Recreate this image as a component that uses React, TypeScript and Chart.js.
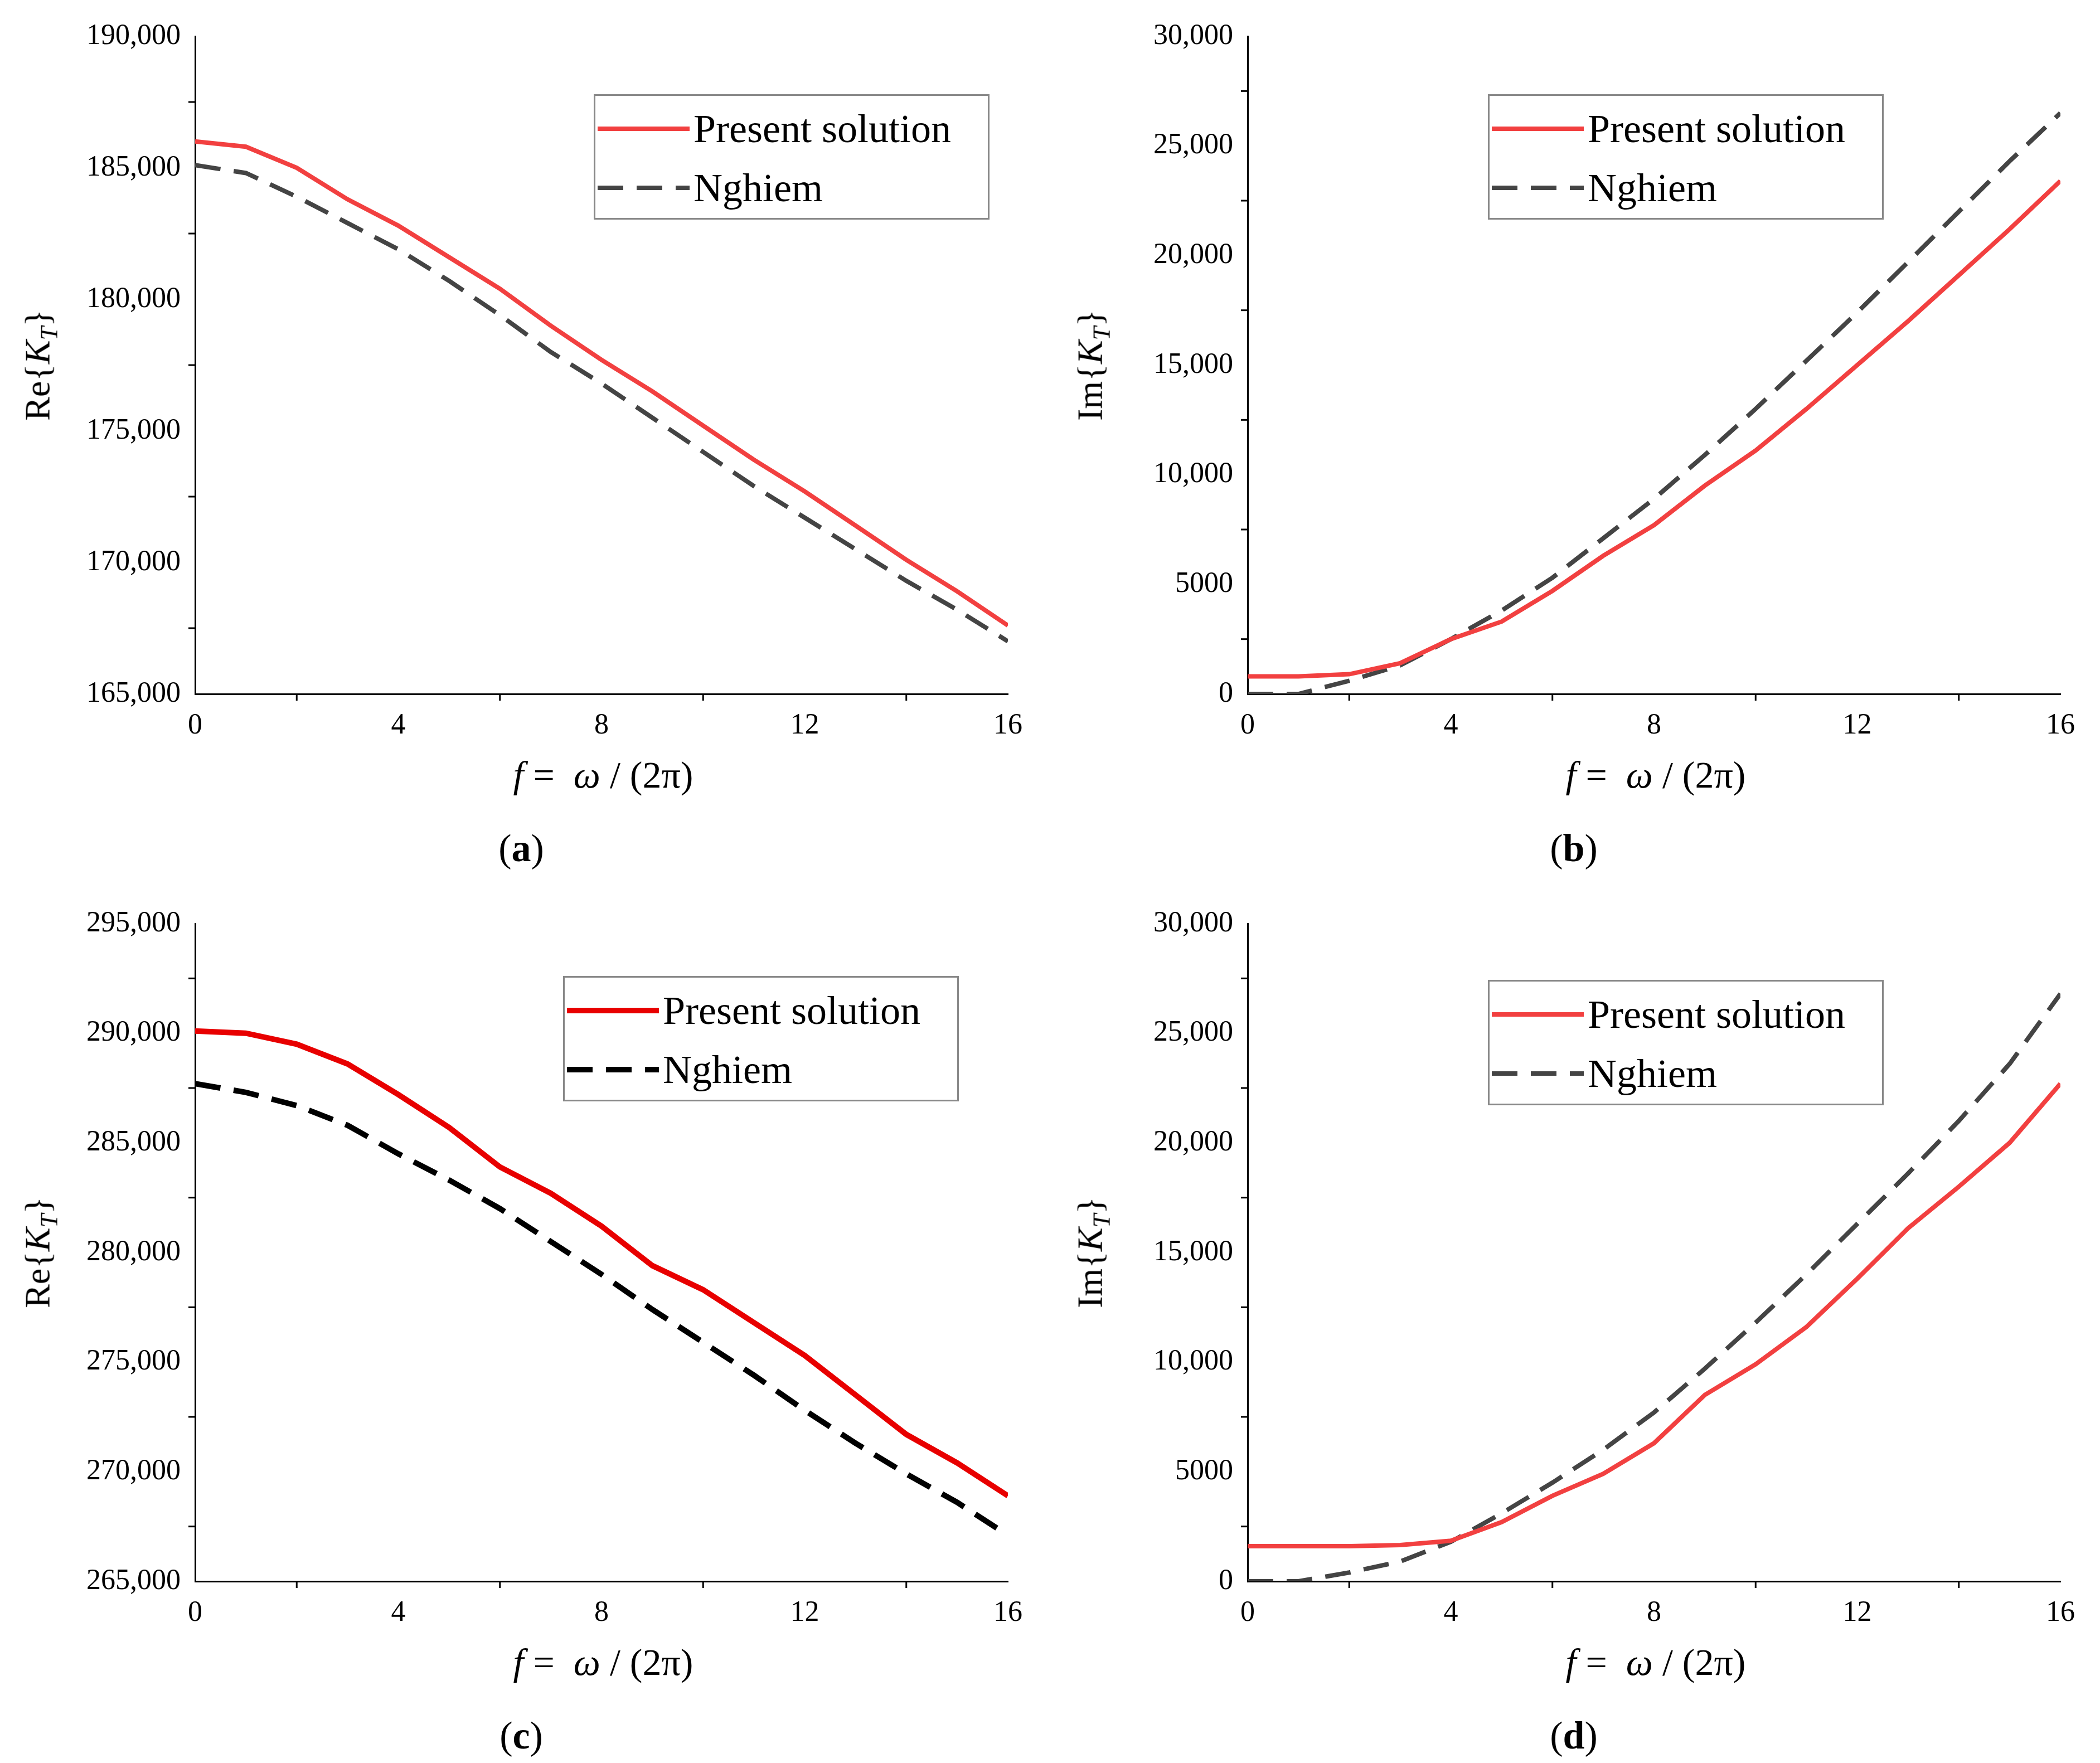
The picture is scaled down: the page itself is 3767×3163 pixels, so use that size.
import React, { useEffect, useRef } from "react";
import { Chart, registerables } from "chart.js";
Chart.register(...registerables);

const freq = [0,1,2,3,4,5,6,7,8,9,10,11,12,13,14,15,16];
const aPresent = [186000,185800,185000,183800,182800,181600,180400,179000,177700,176500,175200,173900,172700,171400,170100,168900,167600];
const aNghiem = [185100,184800,183900,182900,181900,180700,179400,178000,176800,175500,174200,172900,171700,170500,169300,168200,167000];
const bPresent = [800,800,900,1400,2500,3300,4700,6300,7700,9500,11100,13000,15000,17000,19100,21200,23400];
const bNghiem = [0,0,600,1300,2500,3800,5300,7100,8900,10900,13000,15200,17400,19700,22000,24300,26500];
const cPresent = [290100,290000,289500,288600,287200,285700,283900,282700,281200,279400,278300,276800,275300,273500,271700,270400,268900];
const cNghiem = [287700,287300,286700,285800,284500,283300,282000,280500,279000,277400,275900,274400,272800,271300,269900,268600,267100];
const dPresent = [1600,1600,1600,1650,1850,2700,3900,4900,6300,8500,9900,11600,13800,16100,18000,20000,22700];
const dNghiem = [0,0,400,900,1800,3100,4500,6000,7700,9700,11800,14000,16300,18600,21000,23600,26800];
const seriesNames = ["Present solution", "Nghiem"];

const FONT = "'Liberation Serif', 'DejaVu Serif', serif";

const fmt = (v: number) => (v >= 10000 ? v.toLocaleString("en-US") : String(v));

const minorTicks = {
  id: "minorTicks",
  afterDraw(chart: any) {
    const { ctx, scales } = chart;
    const x = scales.x, y = scales.y;
    ctx.save();
    ctx.strokeStyle = "#000";
    ctx.lineWidth = 3;
    const xt = x.ticks.map((t: any) => t.value);
    for (let i = 0; i < xt.length - 1; i++) {
      const px = x.getPixelForValue((xt[i] + xt[i + 1]) / 2);
      ctx.beginPath(); ctx.moveTo(px, y.bottom); ctx.lineTo(px, y.bottom + 12); ctx.stroke();
    }
    const yt = y.ticks.map((t: any) => t.value);
    for (let i = 0; i < yt.length - 1; i++) {
      const py = y.getPixelForValue((yt[i] + yt[i + 1]) / 2);
      ctx.beginPath(); ctx.moveTo(x.left, py); ctx.lineTo(x.left - 12, py); ctx.stroke();
    }
    ctx.restore();
  },
};

type PanelProps = {
  left: number; top: number; height: number;
  present: number[]; nghiem: number[];
  ymin: number; ymax: number; ystep: number;
  redColor: string; dashColor: string; lw: number;
  yLabel: string; caption: string;
  legend: { left: number; top: number };
};

function Panel(p: PanelProps) {
  const ref = useRef<HTMLCanvasElement>(null);
  const W = 1883;
  const plotH = 1180;
  useEffect(() => {
    const chart = new Chart(ref.current!, {
      type: "line",
      data: {
        labels: freq,
        datasets: [
          { label: seriesNames[0], data: freq.map((f, i) => ({ x: f, y: p.present[i] })), borderColor: p.redColor, borderWidth: p.lw, pointRadius: 0, tension: 0 },
          { label: seriesNames[1], data: freq.map((f, i) => ({ x: f, y: p.nghiem[i] })), borderColor: p.dashColor, borderWidth: p.lw, borderDash: [46, 24], pointRadius: 0, tension: 0 },
        ],
      },
      options: {
        animation: false, responsive: false, maintainAspectRatio: false,
        layout: { padding: { top: 65, right: 75, left: 0, bottom: 0 } },
        plugins: { legend: { display: false }, tooltip: { enabled: false } },
        scales: {
          x: {
            type: "linear", min: 0, max: 16,
            ticks: { stepSize: 4, color: "#000", font: { family: FONT, size: 52 }, padding: 4 },
            grid: { display: false, drawTicks: true, tickLength: 22, tickColor: "#000", tickWidth: 3 } as any,
            border: { color: "#000", width: 3 },
            afterFit: (s: any) => { s.height = p.height - 65 - plotH; },
          },
          y: {
            min: p.ymin, max: p.ymax,
            ticks: { stepSize: p.ystep, color: "#000", font: { family: FONT, size: 52 }, callback: (v: any) => fmt(Number(v)), padding: 4 },
            grid: { display: false, drawTicks: true, tickLength: 22, tickColor: "#000", tickWidth: 3 } as any,
            border: { color: "#000", width: 3 },
            afterFit: (s: any) => { s.width = 350; },
          },
        },
      },
      plugins: [minorTicks],
    });
    return () => chart.destroy();
  }, []);
  const L = p.legend;
  const legendRow = (color: string, dash: boolean, text: string) => (
    <div style={{ display: "flex", alignItems: "center", height: 106 }}>
      <svg width={170} height={20} style={{ marginLeft: 4 }}>
        <line x1={0} y1={10} x2={165} y2={10} stroke={color} strokeWidth={p.lw} strokeDasharray={dash ? "46 24" : undefined} />
      </svg>
      <span style={{ fontSize: 72, marginLeft: 2 }}>{text}</span>
    </div>
  );
  return (
    <div style={{ position: "absolute", left: p.left, top: p.top, width: W, height: p.height, fontFamily: FONT, color: "#000" }}>
      <canvas ref={ref} width={W} height={p.height} style={{ width: W, height: p.height, display: "block" }} />
      <div style={{ position: "absolute", left: 72, top: 65 + plotH / 2, transform: "translate(-50%,-50%) rotate(-90deg)", fontSize: 64, whiteSpace: "nowrap" }}>
        {p.yLabel}{"{"}<i>K</i><sub style={{ fontSize: 44, fontStyle: "italic" }}>T</sub>{"}"}
      </div>
      <div style={{ position: "absolute", left: 1082, top: 1390, transform: "translate(-50%,-50%)", fontSize: 68, whiteSpace: "nowrap" }}>
        <i>f</i> =&nbsp; <i>ω</i> / (2π)
      </div>
      <div style={{ position: "absolute", left: 935, top: 1522, transform: "translate(-50%,-50%)", fontSize: 70 }}>
        (<b>{p.caption}</b>)
      </div>
      <div style={{ position: "absolute", left: L.left - p.left, top: L.top - p.top, width: 710, height: 225, border: "3px solid #888", background: "#fff", boxSizing: "border-box", paddingTop: 6 }}>
        {legendRow(p.redColor, false, seriesNames[0])}
        {legendRow(p.dashColor, true, seriesNames[1])}
      </div>
    </div>
  );
}

export default function App() {
  return (
    <div style={{ position: "absolute", left: 0, top: 0, width: 3767, height: 3163, background: "#fff", overflow: "hidden" }}>
      <Panel left={0} top={0} height={1581} present={aPresent} nghiem={aNghiem} ymin={165000} ymax={190000} ystep={5000}
        redColor="#f24040" dashColor="#444" lw={8} yLabel="Re" caption="a" legend={{ left: 1065, top: 169 }} />
      <Panel left={1888} top={0} height={1581} present={bPresent} nghiem={bNghiem} ymin={0} ymax={30000} ystep={5000}
        redColor="#f24040" dashColor="#444" lw={8} yLabel="Im" caption="b" legend={{ left: 2669, top: 169 }} />
      <Panel left={0} top={1592} height={1571} present={cPresent} nghiem={cNghiem} ymin={265000} ymax={295000} ystep={5000}
        redColor="#e80000" dashColor="#000" lw={10} yLabel="Re" caption="c" legend={{ left: 1010, top: 1751 }} />
      <Panel left={1888} top={1592} height={1571} present={dPresent} nghiem={dNghiem} ymin={0} ymax={30000} ystep={5000}
        redColor="#f24040" dashColor="#444" lw={8} yLabel="Im" caption="d" legend={{ left: 2669, top: 1758 }} />
    </div>
  );
}
